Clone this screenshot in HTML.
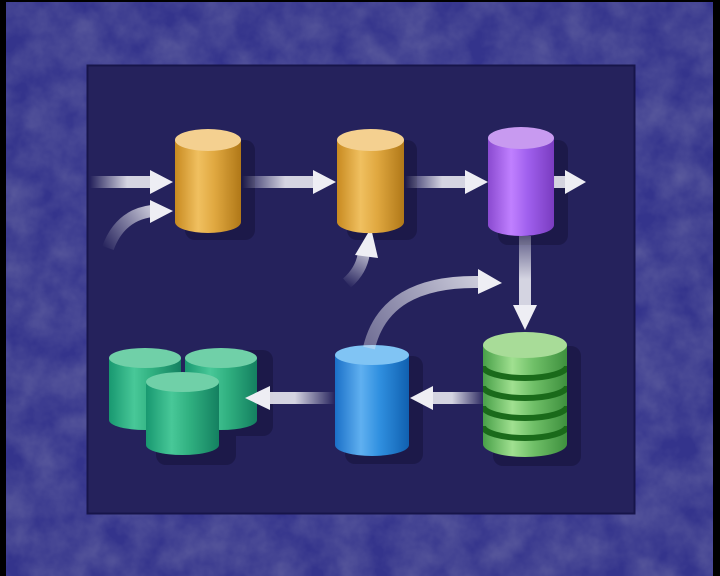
<!DOCTYPE html>
<html><head><meta charset="utf-8"><style>
html,body{margin:0;padding:0;background:#000;}
svg{display:block;}
</style></head><body>
<svg width="720" height="576" viewBox="0 0 720 576" xmlns="http://www.w3.org/2000/svg">
<defs>
<filter id="tex" x="0" y="0" width="100%" height="100%">
<feTurbulence type="fractalNoise" baseFrequency="0.03" numOctaves="4" seed="3"/>
<feColorMatrix type="matrix" values="0 0 0 0 0.13  0 0 0 0 0.13  0 0 0 0 0.36  0 0 0 -1.1 0.85"/>
</filter>
<clipPath id="gcl"><path d="M483,345 v99 a42,13 0 0 0 84,0 v-99 z"/></clipPath>
<linearGradient id="gy" x1="0" x2="1"><stop offset="0" stop-color="#c88a20"/><stop offset="0.35" stop-color="#f0c060"/><stop offset="0.6" stop-color="#e0a840"/><stop offset="1" stop-color="#b07818"/></linearGradient>
<linearGradient id="gp" x1="0" x2="1"><stop offset="0" stop-color="#8a4ad0"/><stop offset="0.35" stop-color="#c080ff"/><stop offset="0.6" stop-color="#a060ee"/><stop offset="1" stop-color="#7a3cc0"/></linearGradient>
<linearGradient id="gb" x1="0" x2="1"><stop offset="0" stop-color="#1a70c8"/><stop offset="0.35" stop-color="#60b0f0"/><stop offset="0.6" stop-color="#3090e0"/><stop offset="1" stop-color="#1060b0"/></linearGradient>
<linearGradient id="gg" x1="0" x2="1"><stop offset="0" stop-color="#48a048"/><stop offset="0.35" stop-color="#a0e090"/><stop offset="0.6" stop-color="#70c068"/><stop offset="1" stop-color="#3e903e"/></linearGradient>
<linearGradient id="gt" x1="0" x2="1"><stop offset="0" stop-color="#189870"/><stop offset="0.35" stop-color="#48c898"/><stop offset="0.6" stop-color="#30b080"/><stop offset="1" stop-color="#148060"/></linearGradient>
<linearGradient id="fr" x1="0" x2="1"><stop offset="0" stop-color="#e8e8f0" stop-opacity="0"/><stop offset="0.6" stop-color="#e8e8f0" stop-opacity="0.9"/></linearGradient>
<linearGradient id="fl" x1="1" x2="0"><stop offset="0" stop-color="#e8e8f0" stop-opacity="0"/><stop offset="0.6" stop-color="#e8e8f0" stop-opacity="0.9"/></linearGradient>
<linearGradient id="fd" x1="0" y1="0" x2="0" y2="1"><stop offset="0" stop-color="#e8e8f0" stop-opacity="0.3"/><stop offset="0.6" stop-color="#e8e8f0" stop-opacity="0.9"/></linearGradient>
<linearGradient id="c1" gradientUnits="userSpaceOnUse" x1="105" y1="250" x2="160" y2="212"><stop offset="0" stop-color="#e8e8f0" stop-opacity="0"/><stop offset="1" stop-color="#e8e8f0" stop-opacity="0.9"/></linearGradient>
<linearGradient id="c2" gradientUnits="userSpaceOnUse" x1="345" y1="285" x2="368" y2="245"><stop offset="0" stop-color="#e8e8f0" stop-opacity="0"/><stop offset="1" stop-color="#e8e8f0" stop-opacity="0.9"/></linearGradient>
<linearGradient id="c3" gradientUnits="userSpaceOnUse" x1="370" y1="345" x2="490" y2="275"><stop offset="0" stop-color="#e8e8f0" stop-opacity="0.4"/><stop offset="1" stop-color="#e8e8f0" stop-opacity="0.9"/></linearGradient>
</defs>
<rect x="6" y="2" width="707" height="574" fill="#34348c"/>
<rect x="6" y="2" width="707" height="574" filter="url(#tex)"/>
<rect x="87.5" y="65.5" width="547" height="448" fill="#25225c" stroke="#17154a" stroke-width="2"/>

<g fill="#1a1845" opacity="0.8">
<rect x="185" y="140" width="70" height="100" rx="10"/>
<rect x="347" y="140" width="70" height="100" rx="10"/>
<rect x="498" y="140" width="70" height="105" rx="10"/>
<rect x="345" y="356" width="78" height="108" rx="10"/>
<rect x="493" y="346" width="88" height="120" rx="10"/>
<rect x="156" y="375" width="80" height="90" rx="10"/>
<rect x="195" y="350" width="78" height="86" rx="10"/>
</g>

<rect x="90" y="176" width="62" height="12" fill="url(#fr)"/>
<polygon points="150,170 173,182 150,194" fill="#eeeef4"/>
<rect x="242" y="176" width="72" height="12" fill="url(#fr)"/>
<polygon points="313,170 336,182 313,194" fill="#eeeef4"/>
<rect x="405" y="176" width="62" height="12" fill="url(#fr)"/>
<polygon points="465,170 488,182 465,194" fill="#eeeef4"/>
<rect x="537" y="176" width="30" height="12" fill="url(#fr)"/>
<polygon points="565,170 586,182 565,194" fill="#eeeef4"/>
<path d="M108,248 Q120,215 152,211" fill="none" stroke="url(#c1)" stroke-width="12"/>
<polygon points="150,200 173,211 150,223" fill="#eeeef4"/>
<path d="M347,283 Q362,270 364,252" fill="none" stroke="url(#c2)" stroke-width="12"/>
<polygon points="355,255 371,228 378,258" fill="#eeeef4"/>

<path d="M175,140 v82 a33,11 0 0 0 66,0 v-82 z" fill="url(#gy)"/>
<ellipse cx="208" cy="140" rx="33" ry="11" fill="#f4d090"/>
<path d="M337,140 v82 a33,11 0 0 0 67,0 v-82 z" fill="url(#gy)"/>
<ellipse cx="370.5" cy="140" rx="33.5" ry="11" fill="#f4d090"/>
<path d="M488,138 v87 a33,11 0 0 0 66,0 v-87 z" fill="url(#gp)"/>
<ellipse cx="521" cy="138" rx="33" ry="11" fill="#c89af0"/>

<rect x="519" y="236" width="12" height="72" fill="url(#fd)"/>
<polygon points="513,305 537,305 525,330" fill="#eeeef4"/>

<path d="M335,355 v90 a37,11 0 0 0 74,0 v-90 z" fill="url(#gb)"/>
<ellipse cx="372" cy="355" rx="37" ry="10" fill="#80c4f4"/>
<path d="M369,348 Q385,280 480,282" fill="none" stroke="url(#c3)" stroke-width="12"/>
<polygon points="478,269 502,283 478,294" fill="#eeeef4"/>

<path d="M483,345 v99 a42,13 0 0 0 84,0 v-99 z" fill="url(#gg)"/>
<g fill="none" stroke="#1a6a1a" stroke-width="6" clip-path="url(#gcl)">
<path d="M483,366 a42,12 0 0 0 84,0"/>
<path d="M483,386 a42,12 0 0 0 84,0"/>
<path d="M483,406 a42,12 0 0 0 84,0"/>
<path d="M483,426 a42,12 0 0 0 84,0"/>
</g>
<ellipse cx="525" cy="345" rx="42" ry="13" fill="#a8dc98"/>

<rect x="430" y="392" width="55" height="12" fill="url(#fl)"/>
<polygon points="433,386 410,398 433,410" fill="#eeeef4"/>

<path d="M109,358 v62 a36,10 0 0 0 72,0 v-62 z" fill="url(#gt)"/>
<ellipse cx="145" cy="358" rx="36" ry="10" fill="#70d0a8"/>
<path d="M185,358 v62 a36,10 0 0 0 72,0 v-62 z" fill="url(#gt)"/>
<ellipse cx="221" cy="358" rx="36" ry="10" fill="#70d0a8"/>
<path d="M146,382 v63 a36.5,10 0 0 0 73,0 v-63 z" fill="url(#gt)"/>
<ellipse cx="182.5" cy="382" rx="36.5" ry="10" fill="#70d0a8"/>

<rect x="268" y="392" width="67" height="12" fill="url(#fl)"/>
<polygon points="270,386 245,398 270,410" fill="#eeeef4"/>
</svg>
</body></html>
